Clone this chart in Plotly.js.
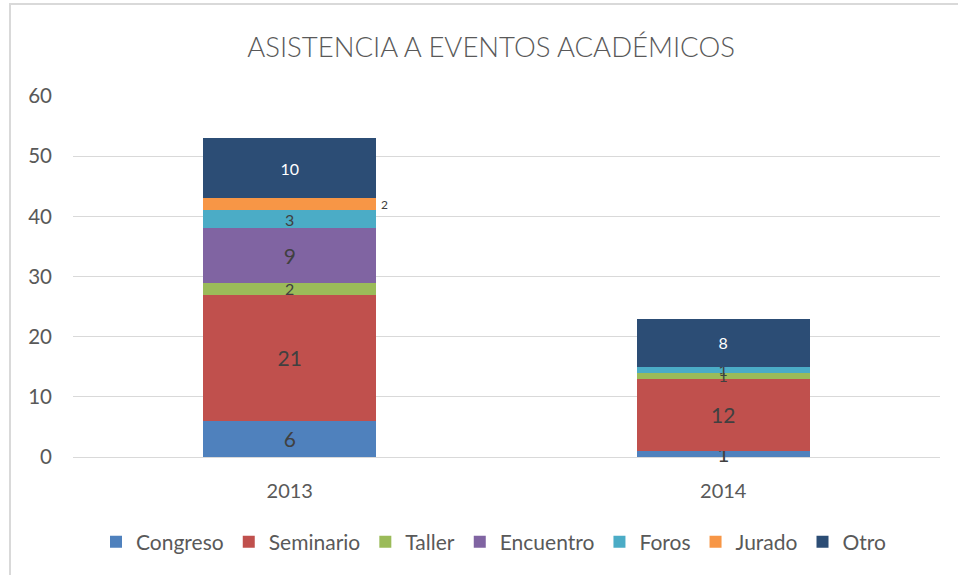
<!DOCTYPE html>
<html>
<head>
<meta charset="utf-8">
<script src="https://cdn.plot.ly/plotly-3.0.1.min.js"></script>
<style>
  html, body { margin: 0; padding: 0; background: #fff; }
  #frame { position: absolute; left: 9px; top: 3px; width: 960px; height: 580px;
           border-left: 2px solid #d9d9d9; border-top: 2px solid #d9d9d9; box-sizing: border-box; }
  #chart { position: absolute; left: 0; top: 0; width: 958px; height: 575px; }
</style>
</head>
<body>
<div id="frame"></div>
<div id="chart"></div>
<script>
const years = ['2013', '2014'];
const seriesNames = ['Congreso', 'Seminario', 'Taller', 'Encuentro', 'Foros', 'Jurado', 'Otro'];
const congreso  = [6, 1];
const seminario = [21, 12];
const taller    = [2, 1];
const encuentro = [9, 0];
const foros     = [3, 1];
const jurado    = [2, 0];
const otro      = [10, 8];
const yTicks = [0, 10, 20, 30, 40, 50, 60];

const seriesValues = [congreso, seminario, taller, encuentro, foros, jurado, otro];
const colors = ['#4F81BD', '#C0504D', '#9BBB59', '#8064A2', '#4BACC6', '#F79646', '#2C4D75'];
// label font sizes per series per year
const labelSizes = [
  [21, 21], [21, 21], [16, 16], [21, 16], [16, 16], [12, 12], [16, 16]
];
const labelColors = ['#404040', '#404040', '#404040', '#404040', '#404040', '#404040', '#ffffff'];
const FONT = 'Lato, "Noto Sans", sans-serif';

const traces = seriesNames.map((name, i) => ({
  type: 'bar',
  name: name,
  x: years,
  y: seriesValues[i],
  marker: { color: colors[i] },
  // Jurado label is drawn outside the bar (annotation below)
  text: seriesValues[i].map(v => (v === 0 || name === 'Jurado') ? '' : String(v)),
  textposition: 'inside',
  insidetextanchor: 'middle',
  textangle: 0,
  constraintext: 'none',
  cliponaxis: false,
  textfont: { family: FONT, size: labelSizes[i], color: labelColors[i] },
  hoverinfo: 'x+y+name'
}));

// annotation for Jurado, placed at the middle of its segment, right of the bar
const annotations = [];
years.forEach((yr, k) => {
  const v = jurado[k];
  if (v === 0) return;
  let base = 0;
  for (let i = 0; i < 5; i++) base += seriesValues[i][k];
  annotations.push({
    x: k, y: base + v / 2, xref: 'x', yref: 'y',
    text: String(v), showarrow: false, xanchor: 'left', xshift: 89,
    font: { family: FONT, size: 12, color: '#404040' }
  });
});

const layout = {
  width: 958, height: 575,
  paper_bgcolor: 'rgba(0,0,0,0)',
  plot_bgcolor: 'rgba(0,0,0,0)',
  margin: { l: 73, r: 18, t: 96, b: 118 },
  barmode: 'stack',
  bargap: 0.6,
  title: {
    text: 'ASISTENCIA A EVENTOS ACADÉMICOS',
    font: { family: FONT, size: 27.5, color: '#595959', weight: 300 },
    x: 491 / 958, xanchor: 'center', xref: 'container',
    y: 1 - 47 / 575, yanchor: 'middle', yref: 'container'
  },
  xaxis: {
    type: 'category',
    range: [-0.5, years.length - 0.5],
    autorange: false,
    showgrid: false, zeroline: false,
    showline: false,
    ticks: '',
    tickfont: { family: FONT, size: 20, color: '#595959' },
    ticklabelstandoff: 20
  },
  yaxis: {
    range: [0, 60],
    autorange: false,
    tickvals: yTicks,
    ticktext: yTicks.map(String),
    showgrid: true, gridcolor: '#d9d9d9', gridwidth: 1,
    zeroline: true, zerolinecolor: '#d9d9d9', zerolinewidth: 1,
    showline: false, ticks: '',
    tickfont: { family: FONT, size: 20.5, color: '#595959' },
    ticklabelstandoff: 20
  },
  legend: {
    orientation: 'h',
    xref: 'container', yref: 'container',
    x: 494 / 958, xanchor: 'center',
    y: 1 - 542 / 575, yanchor: 'middle',
    font: { family: FONT, size: 21, color: '#595959' },
    itemwidth: 30,
    traceorder: 'normal',
    itemclick: false
  },
  annotations: annotations,
  showlegend: true
};

Plotly.newPlot('chart', traces, layout, { displayModeBar: false, responsive: false });
</script>
</body>
</html>
